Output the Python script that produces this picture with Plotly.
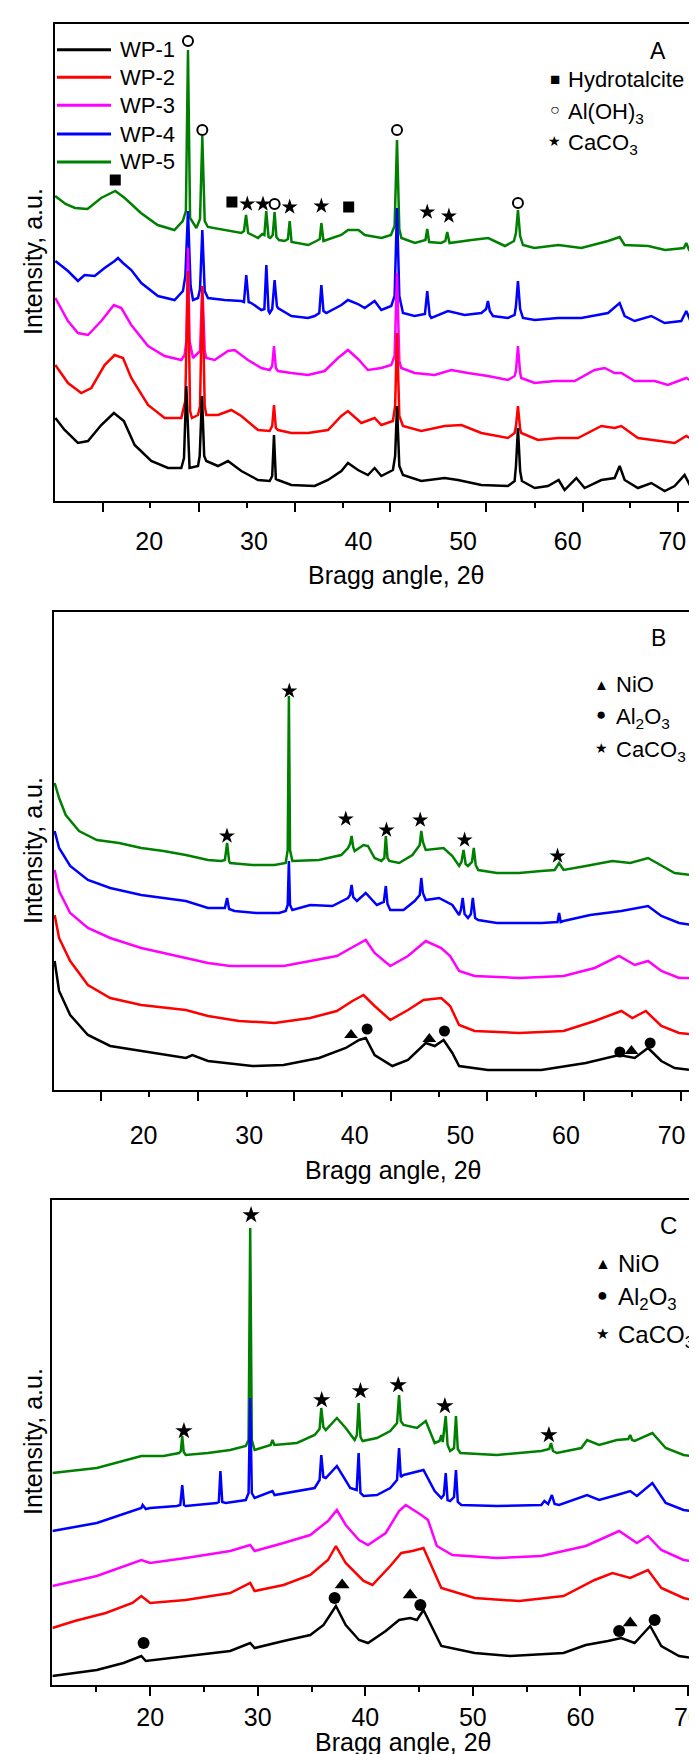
import plotly.graph_objects as go

FONT = "Liberation Sans, Arial, Helvetica, sans-serif"
SAMPLES = ["WP-1", "WP-2", "WP-3", "WP-4", "WP-5"]
COLORS = {"WP-1": "#000000", "WP-2": "#FF0000", "WP-3": "#FF00FF",
          "WP-4": "#0000FF", "WP-5": "#008000"}

# ---------------- Panel A (as-synthesised) ----------------
A_WP5_X = [11.0, 12.0, 12.9, 14.1, 15.4, 16.2, 16.75, 17.65, 19.2, 20.8, 22.4, 23.2, 23.5, 23.7, 23.9, 24.5, 24.85, 25.07, 25.3, 25.6, 27.2, 28.8, 29.05, 29.25, 29.45, 30.4, 30.8, 31.0, 31.18, 31.4, 31.57, 31.8, 31.98, 32.15, 32.4, 32.94, 33.25, 33.42, 33.6, 35.2, 35.97, 36.3, 36.45, 36.65, 38.35, 39.0, 40.0, 40.6, 42.2, 43.1, 43.45, 43.68, 43.9, 44.1, 45.4, 46.4, 46.57, 46.75, 47.9, 48.3, 48.48, 48.7, 50.8, 52.4, 54.0, 54.86, 55.05, 55.24, 55.45, 55.72, 56.8, 59.1, 61.3, 63.85, 64.96, 65.44, 67.7, 69.3, 71.1, 71.33, 71.6, 72.45]
A_WP5_Y = [305, 297, 293, 292, 303, 307, 310, 303, 288, 276, 271, 280, 290, 451, 283, 273, 282, 365, 280, 274, 271, 268, 270, 286, 268, 263, 267, 266, 290, 264, 263, 266, 289, 264, 261, 260, 262, 280, 259, 256, 260, 262, 278, 260, 266, 271, 271, 266, 263, 266, 275, 361, 272, 263, 258, 261, 272, 259, 258, 260, 269, 258, 261, 263, 255, 260, 268, 291, 265, 256, 253, 256, 253, 260, 264, 256, 255, 251, 253, 258, 251, 248]

A_WP4_X = [11.02, 12.23, 13.18, 13.82, 14.78, 15.73, 16.69, 17.01, 17.49, 18.28, 19.24, 20.83, 22.42, 23.22, 23.45, 23.70, 23.95, 24.18, 24.66, 24.85, 25.07, 25.3, 25.61, 27.20, 28.80, 29.05, 29.27, 29.5, 29.75, 30.71, 31.0, 31.19, 31.4, 31.51, 31.75, 31.98, 32.2, 32.30, 33.58, 35.17, 35.81, 36.25, 36.45, 36.65, 36.92, 38.36, 38.99, 39.95, 40.59, 41.54, 42.18, 43.13, 43.45, 43.68, 43.9, 44.25, 45.36, 46.35, 46.57, 46.8, 46.96, 48.55, 50.14, 51.74, 52.2, 52.37, 52.55, 52.85, 54.28, 54.92, 55.05, 55.24, 55.45, 55.72, 56.84, 59.07, 61.30, 63.85, 64.96, 65.44, 66.39, 67.99, 69.26, 70.85, 71.33, 71.81, 72.45]
A_WP4_Y = [240, 230, 220, 226, 225, 233, 240, 243, 238, 231, 218, 205, 201, 210, 225, 290, 215, 201, 203, 212, 271, 210, 203, 201, 200, 199, 226, 199, 198, 191, 192, 236, 190, 188, 192, 221, 195, 193, 185, 183, 185, 188, 216, 190, 188, 196, 201, 197, 193, 200, 191, 195, 205, 293, 205, 188, 185, 187, 210, 186, 183, 190, 186, 188, 192, 200, 190, 185, 183, 186, 195, 220, 192, 183, 181, 183, 183, 188, 198, 185, 180, 185, 178, 180, 190, 178, 181]

A_WP3_X = [11.02, 12.23, 13.18, 14.14, 15.41, 16.62, 17.33, 18.28, 19.88, 21.47, 23.06, 23.38, 23.55, 23.70, 23.85, 24.18, 24.85, 25.07, 25.3, 25.45, 26.25, 27.52, 28.16, 29.43, 30.71, 31.51, 31.75, 31.92, 32.1, 32.30, 33.58, 35.17, 36.76, 38.04, 38.99, 39.95, 40.90, 42.18, 43.13, 43.45, 43.68, 43.9, 44.09, 45.36, 47.28, 48.87, 50.46, 52.37, 54.28, 54.92, 55.05, 55.24, 55.45, 55.56, 56.84, 58.75, 60.66, 62.57, 63.53, 64.48, 65.12, 66.39, 68.31, 69.58, 71.33, 72.45]
A_WP3_Y = [203, 180, 168, 166, 180, 196, 193, 176, 155, 145, 141, 146, 160, 253, 160, 143, 150, 215, 150, 143, 141, 150, 151, 141, 133, 131, 135, 155, 133, 130, 128, 126, 130, 143, 151, 142, 131, 133, 136, 145, 228, 140, 133, 128, 126, 131, 128, 125, 121, 125, 130, 155, 128, 123, 118, 120, 120, 131, 133, 128, 128, 120, 120, 116, 123, 116]

A_WP2_X = [11.02, 12.23, 13.50, 14.46, 15.73, 16.69, 17.49, 18.28, 19.88, 21.47, 23.06, 23.44, 23.70, 23.9, 24.08, 24.66, 24.85, 25.07, 25.3, 25.45, 26.57, 27.84, 28.80, 30.39, 31.51, 31.75, 31.92, 32.1, 32.30, 33.58, 35.17, 37.08, 38.36, 38.99, 40.27, 41.54, 42.18, 43.29, 43.5, 43.68, 43.9, 44.25, 46.00, 48.23, 49.83, 51.74, 54.28, 54.92, 55.05, 55.24, 55.45, 55.56, 57.15, 59.07, 60.98, 63.21, 64.48, 65.12, 66.71, 68.31, 70.22, 71.33, 72.45]
A_WP2_Y = [136, 118, 108, 113, 136, 146, 143, 123, 96, 83, 83, 100, 230, 90, 83, 86, 95, 215, 95, 86, 86, 91, 85, 71, 70, 75, 96, 73, 71, 68, 68, 71, 85, 90, 78, 83, 76, 80, 95, 168, 85, 75, 70, 75, 76, 68, 63, 68, 75, 95, 72, 68, 61, 63, 63, 75, 73, 75, 63, 61, 58, 65, 58]

A_WP1_X = [11.02, 11.91, 13.18, 14.14, 15.41, 16.62, 17.57, 18.60, 20.19, 21.79, 23.06, 23.32, 23.54, 23.85, 24.66, 24.82, 25.04, 25.25, 25.45, 26.57, 27.52, 28.80, 30.39, 31.51, 31.75, 31.92, 32.1, 32.30, 33.58, 35.81, 37.08, 38.36, 38.99, 39.95, 40.90, 41.54, 42.18, 43.29, 43.5, 43.68, 43.9, 44.25, 46.00, 48.23, 49.51, 51.74, 54.28, 54.92, 55.05, 55.24, 55.45, 55.62, 56.84, 58.11, 59.13, 59.70, 60.82, 61.61, 63.21, 64.48, 64.96, 65.44, 66.71, 67.99, 69.26, 70.22, 71.17, 71.81, 72.45]
A_WP1_Y = [83, 71, 58, 60, 76, 88, 80, 56, 40, 33, 33, 43, 115, 33, 35, 45, 105, 45, 40, 35, 40, 30, 21, 20, 25, 66, 22, 21, 16, 15, 21, 30, 38, 31, 26, 33, 25, 31, 45, 95, 35, 26, 20, 23, 21, 16, 15, 20, 35, 73, 30, 20, 13, 15, 21, 11, 23, 13, 21, 23, 35, 21, 13, 18, 10, 15, 26, 13, 8]

A_HT_X = [16.75, 27.9, 39.06]          # Hydrotalcite
A_HT_Y = [321, 299, 294]
A_AOH_X = [23.7, 25.07, 31.98, 43.68, 55.24]   # Al(OH)3
A_AOH_Y = [460, 371, 297, 371, 298]
A_CC_X = [29.37, 30.87, 33.42, 36.45, 46.57, 48.64]   # CaCO3
A_CC_Y = [297, 297, 294, 295, 289, 285]

# ---------------- Panel B ----------------
B_WP5_X = [11.58, 12.00, 12.63, 13.89, 15.58, 17.68, 19.78, 21.89, 24.00, 26.10, 27.36, 27.7, 27.91, 28.1, 28.20, 30.30, 32.41, 33.46, 33.65, 33.76, 33.87, 34.09, 36.62, 38.72, 39.36, 39.55, 39.70, 39.85, 39.99, 40.83, 41.25, 41.88, 42.51, 42.8, 42.94, 43.1, 43.27, 44.20, 45.46, 46.15, 46.30, 46.45, 46.72, 48.41, 49.24, 49.88, 50.1, 50.30, 50.5, 50.72, 51.1, 51.27, 51.45, 51.69, 53.46, 55.56, 57.66, 58.93, 59.35, 59.77, 61.88, 64.39, 66.08, 67.77, 68.61, 70.29, 72.69]
B_WP5_Y = [307, 292, 275, 259, 250, 247, 242, 239, 235, 230, 229, 230, 247, 229, 227, 225, 225, 227, 240, 394, 240, 229, 230, 235, 242, 246, 254, 243, 239, 245, 244, 232, 229, 232, 254, 232, 229, 227, 235, 245, 259, 248, 240, 242, 234, 224, 228, 240, 226, 224, 228, 242, 225, 220, 217, 217, 219, 220, 227, 220, 224, 229, 227, 232, 227, 217, 214]

B_WP4_X = [11.58, 12.00, 13.05, 14.73, 16.84, 19.78, 21.89, 24.00, 26.10, 27.7, 27.91, 28.1, 28.62, 30.73, 32.83, 33.46, 33.65, 33.76, 33.87, 34.09, 35.78, 37.88, 39.36, 39.55, 39.70, 39.85, 40.20, 41.04, 42.09, 42.75, 42.94, 43.1, 43.36, 44.62, 45.67, 46.15, 46.30, 46.45, 46.72, 47.98, 49.24, 49.88, 50.05, 50.22, 50.4, 50.72, 51.0, 51.18, 51.4, 51.69, 53.46, 57.66, 59.2, 59.35, 59.5, 59.77, 62.29, 65.24, 67.77, 69.03, 70.71, 72.69]
B_WP4_Y = [259, 242, 224, 210, 202, 195, 192, 189, 182, 182, 192, 181, 179, 177, 177, 179, 185, 229, 185, 180, 185, 184, 192, 195, 205, 193, 189, 197, 185, 188, 204, 186, 180, 180, 189, 195, 212, 197, 190, 192, 185, 175, 180, 192, 176, 172, 176, 192, 172, 170, 167, 167, 168, 177, 168, 169, 175, 179, 184, 174, 167, 164]

B_WP3_X = [11.58, 12.00, 13.05, 14.73, 16.84, 19.78, 21.89, 24.00, 26.10, 28.20, 30.73, 33.26, 35.78, 38.30, 39.99, 41.04, 41.88, 43.36, 45.04, 46.72, 48.19, 49.03, 49.88, 51.35, 55.56, 59.77, 62.72, 65.03, 66.51, 67.77, 69.03, 70.71, 72.69]
B_WP3_Y = [220, 199, 177, 162, 152, 142, 137, 132, 127, 124, 124, 124, 129, 134, 144, 150, 137, 124, 134, 149, 142, 134, 119, 114, 112, 114, 122, 134, 125, 129, 119, 112, 112]

B_WP2_X = [11.58, 12.00, 13.05, 14.73, 16.84, 19.78, 24.00, 26.10, 29.04, 32.41, 35.78, 38.30, 39.78, 40.83, 41.88, 43.36, 45.04, 46.51, 48.19, 49.03, 49.88, 51.35, 55.56, 59.77, 62.72, 65.24, 66.29, 67.56, 69.03, 70.71, 72.69]
B_WP2_Y = [175, 152, 129, 105, 92, 85, 80, 74, 69, 67, 72, 79, 89, 95, 84, 70, 80, 90, 92, 84, 65, 59, 57, 59, 69, 79, 72, 79, 64, 57, 55]

B_WP1_X = [11.58, 12.00, 13.05, 14.73, 16.84, 19.78, 24.00, 24.62, 26.10, 30.30, 33.26, 36.62, 39.15, 40.41, 41.04, 41.88, 43.56, 45.04, 46.72, 47.57, 48.41, 49.24, 49.88, 52.61, 57.66, 61.88, 65.03, 66.51, 67.77, 69.03, 70.29, 72.69]
B_WP1_Y = [129, 99, 75, 55, 44, 39, 32, 35, 29, 24, 25, 32, 42, 50, 52, 35, 24, 30, 47, 44, 50, 37, 24, 20, 20, 27, 35, 32, 42, 29, 22, 19]

B_NIO_X = [39.65, 47.06, 66.2]
B_NIO_Y = [55, 51, 39]
B_AL2O3_X = [41.17, 48.49, 65.1, 67.97]
B_AL2O3_Y = [61, 59, 38, 47]
B_CC_X = [27.9, 33.8, 39.15, 43.0, 46.2, 50.4, 59.2]
B_CC_Y = [254, 399, 271, 260, 270, 250, 234]

# ---------------- Panel C ----------------
C_WP5_X = [10.91, 15.04, 19.18, 21.24, 22.69, 22.85, 22.98, 23.12, 23.31, 25.37, 27.44, 28.89, 29.15, 29.30, 29.45, 29.71, 31.2, 31.37, 31.55, 33.64, 35.29, 35.75, 35.91, 36.1, 36.33, 37.36, 38.18, 39.01, 39.22, 39.38, 39.55, 39.75, 41.08, 42.32, 42.95, 43.14, 43.3, 43.56, 44.80, 45.62, 46.45, 46.9, 47.07, 47.2, 47.48, 47.65, 47.89, 48.25, 48.43, 48.6, 48.84, 52.23, 56.36, 57.1, 57.27, 57.45, 57.81, 60.08, 60.62, 61.74, 63.39, 64.45, 64.63, 64.8, 65.04, 66.69, 67.93, 69.59, 71.53]
C_WP5_Y = [212, 217, 229, 229, 232, 234, 249, 233, 230, 232, 235, 239, 245, 457, 245, 235, 240, 245, 240, 242, 250, 256, 277, 258, 255, 267, 257, 245, 250, 282, 248, 244, 247, 254, 262, 290, 264, 260, 257, 264, 242, 244, 250, 243, 269, 240, 234, 237, 269, 236, 232, 230, 234, 236, 242, 234, 232, 237, 245, 240, 245, 246, 250, 245, 244, 252, 237, 230, 227]

C_WP4_X = [10.91, 15.04, 19.18, 19.30, 19.59, 20.00, 22.48, 22.8, 22.98, 23.15, 23.31, 26.20, 26.38, 26.53, 26.7, 27.03, 28.89, 29.15, 29.30, 29.45, 29.71, 31.37, 31.57, 33.64, 35.29, 35.75, 35.91, 36.1, 36.33, 37.36, 38.60, 39.2, 39.38, 39.55, 39.84, 41.08, 42.32, 42.95, 43.14, 43.3, 43.56, 45.41, 46.45, 47.07, 47.3, 47.48, 47.65, 47.89, 48.25, 48.43, 48.6, 48.93, 52.23, 56.36, 56.65, 57.0, 57.35, 57.6, 58.02, 60.62, 61.74, 63.39, 64.63, 65.25, 66.69, 67.93, 69.59, 71.53]
C_WP4_Y = [154, 162, 177, 180, 176, 177, 179, 180, 200, 180, 179, 182, 183, 214, 183, 182, 185, 192, 287, 192, 187, 194, 190, 194, 197, 205, 230, 208, 207, 219, 197, 195, 232, 192, 189, 190, 197, 205, 237, 208, 210, 215, 194, 187, 190, 212, 185, 184, 188, 215, 183, 180, 179, 180, 184, 181, 190, 181, 180, 190, 185, 190, 194, 189, 202, 182, 175, 172]

C_WP3_X = [10.91, 15.04, 19.18, 20.00, 23.31, 27.44, 29.30, 29.71, 32.40, 34.88, 36.53, 37.36, 38.18, 39.42, 40.25, 41.90, 43.14, 43.76, 45.21, 45.83, 46.65, 48.10, 52.23, 56.36, 60.50, 63.60, 65.25, 66.28, 67.52, 69.59, 71.53]
C_WP3_Y = [99, 109, 125, 122, 127, 134, 140, 134, 142, 150, 164, 175, 160, 145, 140, 152, 174, 180, 170, 165, 139, 130, 127, 129, 139, 154, 142, 149, 135, 125, 122]

C_WP2_X = [10.91, 12.98, 15.87, 18.35, 19.18, 20.00, 23.31, 27.44, 29.30, 29.71, 32.40, 34.88, 36.53, 37.27, 38.18, 39.84, 40.66, 42.32, 43.35, 44.38, 45.41, 46.24, 47.07, 50.17, 54.30, 58.43, 61.32, 62.98, 64.63, 66.28, 67.52, 69.59, 71.53]
C_WP2_Y = [57, 64, 72, 82, 89, 82, 85, 92, 102, 94, 100, 110, 125, 139, 122, 104, 100, 119, 132, 134, 137, 117, 97, 87, 84, 89, 105, 112, 107, 115, 97, 87, 82]

C_WP1_X = [10.91, 15.04, 17.52, 19.18, 19.59, 23.31, 27.44, 29.30, 29.71, 32.40, 34.88, 36.12, 37.27, 38.18, 39.42, 40.25, 41.90, 43.14, 44.17, 44.80, 45.41, 46.24, 47.07, 50.17, 53.47, 58.43, 60.50, 62.56, 63.80, 65.04, 66.49, 67.52, 69.17, 71.53]
C_WP1_Y = [9, 15, 22, 29, 24, 29, 34, 42, 37, 44, 50, 60, 79, 60, 45, 42, 54, 65, 67, 65, 75, 57, 39, 32, 29, 32, 40, 44, 47, 42, 59, 39, 29, 25]

C_NIO_X = [37.85, 44.17, 64.63]
C_NIO_Y = [100, 90, 62]
C_AL2O3_X = [19.39, 37.15, 45.12, 63.6, 66.9]
C_AL2O3_Y = [42, 87, 80, 54, 65]
C_CC_X = [23.14, 29.38, 35.95, 39.55, 43.06, 47.4, 57.07]
C_CC_Y = [254, 470, 285, 294, 300, 279, 250]

# ---------------- axes ----------------
TICK_LABEL_VALUES = [20, 30, 40, 50, 60, 70]
A_TICK_LONG = [15.55, 24.76, 33.90, 43.03, 52.16, 61.43, 70.55]
A_TICK_SHORT = [20.09, 29.35, 38.49, 47.61, 56.84, 65.97]
B_TICK_LONG = [15.99, 25.17, 34.22, 43.43, 52.53, 61.74, 70.92]
B_TICK_SHORT = [20.54, 29.76, 38.81, 47.99, 57.12, 66.29]
C_TICK_MINOR = [15, 25, 35, 45, 55, 65]

A_XRANGE = [10.96, 72.45]
B_XRANGE = [11.49, 72.72]
C_XRANGE = [10.91, 71.49]
A_YRANGE = [0, 477]
B_YRANGE = [0, 478]
C_YRANGE = [0, 485]

PANEL_DATA = {
    "A": {"WP-1": (A_WP1_X, A_WP1_Y), "WP-2": (A_WP2_X, A_WP2_Y), "WP-3": (A_WP3_X, A_WP3_Y),
          "WP-4": (A_WP4_X, A_WP4_Y), "WP-5": (A_WP5_X, A_WP5_Y)},
    "B": {"WP-1": (B_WP1_X, B_WP1_Y), "WP-2": (B_WP2_X, B_WP2_Y), "WP-3": (B_WP3_X, B_WP3_Y),
          "WP-4": (B_WP4_X, B_WP4_Y), "WP-5": (B_WP5_X, B_WP5_Y)},
    "C": {"WP-1": (C_WP1_X, C_WP1_Y), "WP-2": (C_WP2_X, C_WP2_Y), "WP-3": (C_WP3_X, C_WP3_Y),
          "WP-4": (C_WP4_X, C_WP4_Y), "WP-5": (C_WP5_X, C_WP5_Y)},
}
AXES = {"A": ("x", "y"), "B": ("x2", "y2"), "C": ("x3", "y3")}

fig = go.Figure()
for panel, series in PANEL_DATA.items():
    xa, ya = AXES[panel]
    for name in reversed(SAMPLES):       # WP-5 drawn first, WP-1 on top
        xs, ys = series[name]
        assert len(xs) == len(ys), (panel, name, len(xs), len(ys))
        fig.add_trace(go.Scatter(x=xs, y=ys, mode="lines", name=name,
                                 line=dict(color=COLORS[name], width=2.5),
                                 xaxis=xa, yaxis=ya, showlegend=False,
                                 hoverinfo="skip"))

MARKERS = [
    ("A", A_HT_X, A_HT_Y, "square", 11, "black", 0),
    ("A", A_AOH_X, A_AOH_Y, "circle-open", 10, "black", 2),
    ("A", A_CC_X, A_CC_Y, "star", 12, "black", 0),
    ("B", B_NIO_X, B_NIO_Y, "triangle-up", 12, "black", 0),
    ("B", B_AL2O3_X, B_AL2O3_Y, "circle", 11, "black", 0),
    ("B", B_CC_X, B_CC_Y, "star", 12, "black", 0),
    ("C", C_NIO_X, C_NIO_Y, "triangle-up", 13, "black", 0),
    ("C", C_AL2O3_X, C_AL2O3_Y, "circle", 12, "black", 0),
    ("C", C_CC_X, C_CC_Y, "star", 13, "black", 0),
]
for panel, xs, ys, sym, size, col, lw in MARKERS:
    xa, ya = AXES[panel]
    fig.add_trace(go.Scatter(x=xs, y=ys, mode="markers", showlegend=False,
                             marker=dict(symbol=sym, size=size, color=col,
                                         line=dict(color=col, width=lw)),
                             xaxis=xa, yaxis=ya, hoverinfo="skip"))

# empty traces so that the label-only overlay axes of A and B are drawn
for xa, ya in [("x4", "y"), ("x5", "y2")]:
    fig.add_trace(go.Scatter(x=[None], y=[None], mode="lines", showlegend=False,
                             xaxis=xa, yaxis=ya, hoverinfo="skip"))

# layout geometry: margins l=44 r=0 t=16 b=77 -> plot area 653 x 1661
frame = dict(showline=True, mirror=True, linecolor="black", linewidth=1.5,
             showgrid=False, zeroline=False)
tickfont = dict(family=FONT, size=25, color="black")


def marks_axis(domain, anchor, rng, long_vals, short_vals):
    return dict(domain=domain, anchor=anchor, range=rng, tickmode="array",
                tickvals=long_vals, ticks="outside", ticklen=9, tickwidth=1.5,
                tickcolor="black", showticklabels=False,
                minor=dict(tickmode="array", tickvals=short_vals, ticks="outside",
                           ticklen=5, tickwidth=1.5, tickcolor="black"), **frame)


def label_axis(over, anchor, rng, standoff):
    return dict(overlaying=over, anchor=anchor, side="bottom", range=rng,
                tickmode="array", tickvals=TICK_LABEL_VALUES,
                ticktext=[str(v) for v in TICK_LABEL_VALUES], ticks="", ticklen=0,
                showline=False, showgrid=False, zeroline=False, tickfont=tickfont,
                ticklabelstandoff=standoff)


yax = dict(showticklabels=False, ticks="", **frame)

fig.update_layout(
    width=697, height=1754,
    margin=dict(l=44, r=0, t=16, b=77),
    paper_bgcolor="white", plot_bgcolor="white",
    font=dict(family=FONT, color="black"),
    xaxis=marks_axis([0.00413, 0.98928], "y", A_XRANGE, A_TICK_LONG, A_TICK_SHORT),
    xaxis2=marks_axis([0.0026, 0.99280], "y2", B_XRANGE, B_TICK_LONG, B_TICK_SHORT),
    xaxis3=dict(domain=[0.0006, 0.99847], anchor="y3", range=C_XRANGE,
                tickmode="array", tickvals=TICK_LABEL_VALUES, ticks="outside",
                ticklen=9, tickwidth=1.5, tickcolor="black", tickfont=tickfont,
                ticklabelstandoff=0,
                minor=dict(tickmode="array", tickvals=C_TICK_MINOR, ticks="outside",
                           ticklen=5, tickwidth=1.5, tickcolor="black"), **frame),
    xaxis4=label_axis("x", "y", A_XRANGE, 23),
    xaxis5=label_axis("x2", "y2", B_XRANGE, 28),
    yaxis=dict(domain=[0.71282, 1.0], anchor="x", range=A_YRANGE, **yax),
    yaxis2=dict(domain=[0.35822, 0.64600], anchor="x2", range=B_YRANGE, **yax),
    yaxis3=dict(domain=[0.0, 0.29199], anchor="x3", range=C_YRANGE, **yax),
    showlegend=False,
)

ann = []
shapes = []


def px_x(px):
    return (px - 44) / 653.0


def px_y(py):
    return (1677 - py) / 1661.0


def add_text(text, x, y, size, xanchor="left", angle=0):
    ann.append(dict(text=text, x=px_x(x), y=px_y(y), xref="paper", yref="paper",
                    xanchor=xanchor, yanchor="middle", showarrow=False,
                    textangle=angle, font=dict(family=FONT, size=size, color="black")))


# axis titles (pixel positions)
for yc in [254, 843, 1434]:
    add_text("Intensity, a.u.", 25, yc, 25, "center", -90)
add_text("Bragg angle, 2θ", 388, 567, 25, "center")
add_text("Bragg angle, 2θ", 385, 1162, 25, "center")
add_text("Bragg angle, 2θ", 395, 1734, 25, "center")

# sample key of panel A: line sample + name for each series
LEGEND_ROWS_Y = [41.7, 69.3, 97.3, 126, 154]
for name, ry in zip(SAMPLES, LEGEND_ROWS_Y):
    shapes.append(dict(type="line", xref="paper", yref="paper",
                       x0=px_x(49), x1=px_x(103), y0=px_y(ry), y1=px_y(ry),
                       line=dict(color=COLORS[name], width=3)))
    add_text(name, 110, ry, 22)

# panel letters and phase keys: (symbol, symbol size, label, row y)
KEYS = {
    "A": dict(letter=("A", 650, 43, 23), sx=546.7, tx=558.3, size=22,
              rows=[("■", 17, "Hydrotalcite", 71.7, 0),
                    ("○", 16, "Al(OH)<sub>3</sub>", 101.7, 3),
                    ("★", 14, "CaCO<sub>3</sub>", 133, 3)]),
    "B": dict(letter=("B", 650, 630, 23), sx=593.3, tx=605.7, size=22,
              rows=[("▲", 15, "NiO", 676.7, 0),
                    ("●", 17, "Al<sub>2</sub>O<sub>3</sub>", 706.7, 3),
                    ("★", 14, "CaCO<sub>3</sub>", 740, 3)]),
    "C": dict(letter=("C", 660, 1217, 24), sx=594.7, tx=608, size=24,
              rows=[("▲", 16, "NiO", 1255, 0),
                    ("●", 18, "Al<sub>2</sub>O<sub>3</sub>", 1287, 3),
                    ("★", 15, "CaCO<sub>3</sub>", 1325, 3)]),
}
for key in KEYS.values():
    t, lx, ly, ls = key["letter"]
    add_text(t, lx, ly, ls, "center")
    for sym, ssize, label, ry, dy in key["rows"]:
        add_text(sym, key["sx"], ry, ssize, "center")
        add_text(label, key["tx"], ry + dy, key["size"])

fig.update_layout(annotations=ann, shapes=shapes)
fig.write_html("out.html")
